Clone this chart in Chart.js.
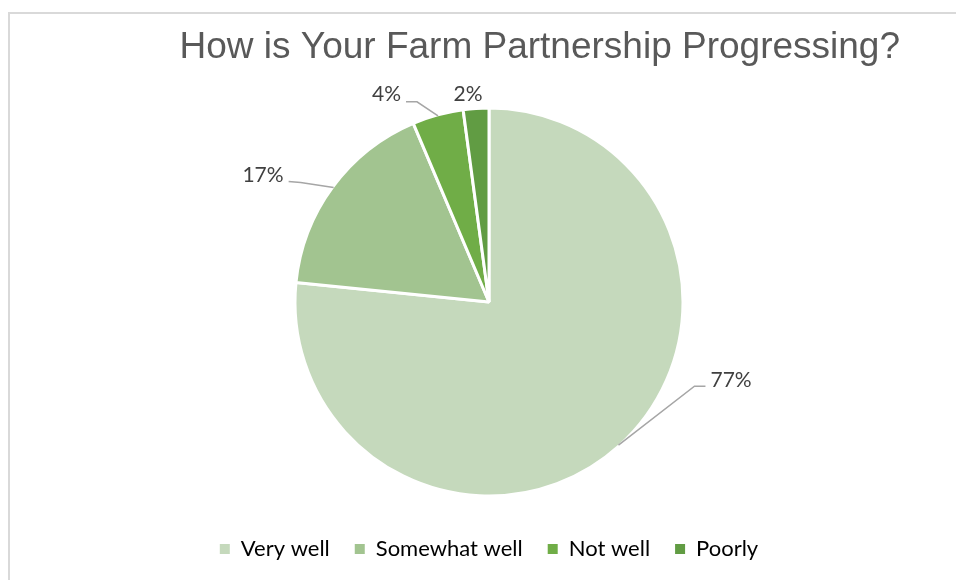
<!DOCTYPE html>
<html>
<head>
<meta charset="utf-8">
<title>How is Your Farm Partnership Progressing?</title>
<script src="https://cdn.jsdelivr.net/npm/chart.js@4.4.1/dist/chart.umd.min.js"></script>
<style>
    html, body { margin: 0; padding: 0; background: #fff; }
    #wrap { position: relative; width: 956px; height: 580px; overflow: hidden; }
    /* only the top and left edge of the chart frame are in view */
    #frame { position: absolute; left: 8px; top: 12px; width: 1000px; height: 1000px;
             border-top: 2px solid #d9d9d9; border-left: 2px solid #d9d9d9; }
    #farmChart { position: absolute; left: 0; top: 0; }
</style>
</head>
<body>
<div id="wrap">
    <div id="frame"></div>
    <canvas id="farmChart" width="956" height="580"></canvas>
</div>
<script>
const categories = ['Very well', 'Somewhat well', 'Not well', 'Poorly'];
const responses = [36, 8, 2, 1];
const sliceColors = ['#c5d9bc', '#a2c490', '#70ad47', '#619c43'];

// where each percentage label sits, relative to the slice's outer edge
const labelLayout = [
    { line: [[76, -59], [87, -59]], text: [92, -65], align: 'left' },
    { line: [[-33, -5], [-45, -6]], text: [-50, -12], align: 'right' },
    { line: [[-21, -14], [-32, -14]], text: [-37, -22], align: 'right' },
    { line: [], text: [-8, -15], align: 'center' }
];

const pieLabels = {
    id: 'pieLabels',
    afterDatasetsDraw(chart) {
        const ctx = chart.ctx;
        const meta = chart.getDatasetMeta(0);
        const total = responses.reduce(function (a, b) { return a + b; }, 0);
        ctx.save();
        meta.data.forEach(function (arc, i) {
            const p = arc.getProps(['x', 'y', 'startAngle', 'endAngle', 'outerRadius'], true);
            const mid = (p.startAngle + p.endAngle) / 2;
            const ex = p.x + Math.cos(mid) * (p.outerRadius - 1);
            const ey = p.y + Math.sin(mid) * (p.outerRadius - 1);
            const lay = labelLayout[i];
            if (lay.line.length) {
                ctx.beginPath();
                ctx.moveTo(ex, ey);
                lay.line.forEach(function (pt) { ctx.lineTo(ex + pt[0], ey + pt[1]); });
                ctx.strokeStyle = '#a6a6a6';
                ctx.lineWidth = 1.5;
                ctx.stroke();
            }
            ctx.font = '21px Lato, "Noto Sans", sans-serif';
            ctx.fillStyle = '#404040';
            ctx.textAlign = lay.align;
            ctx.textBaseline = 'middle';
            ctx.fillText(Math.round(responses[i] / total * 100) + '%', ex + lay.text[0], ey + lay.text[1]);
        });
        ctx.restore();
    }
};

new Chart(document.getElementById('farmChart'), {
    type: 'pie',
    data: {
        labels: categories,
        datasets: [{
            data: responses,
            backgroundColor: sliceColors,
            borderColor: '#ffffff',
            borderWidth: 3
        }]
    },
    options: {
        responsive: false,
        animation: false,
        radius: 194,
        layout: { padding: { left: 78, right: 56, top: 0, bottom: 10 } },
        plugins: {
            tooltip: { enabled: false },
            title: {
                display: true,
                text: 'How is Your Farm Partnership Progressing?',
                align: 'end',
                color: '#595959',
                font: { family: '"Liberation Sans", Arial, sans-serif', size: 37, weight: 'normal' },
                padding: { top: 26, bottom: 20.6 }
            },
            legend: {
                position: 'bottom',
                labels: {
                    boxWidth: 10,
                    boxHeight: 10,
                    padding: 25,
                    color: '#595959',
                    font: { family: 'Lato, "Noto Sans", sans-serif', size: 22 },
                    generateLabels: function () {
                        return categories.map(function (name, i) {
                            return { text: name, fillStyle: sliceColors[i], strokeStyle: sliceColors[i],
                                     lineWidth: 0, index: i, hidden: false };
                        });
                    }
                }
            }
        }
    },
    plugins: [pieLabels]
});
</script>
</body>
</html>
